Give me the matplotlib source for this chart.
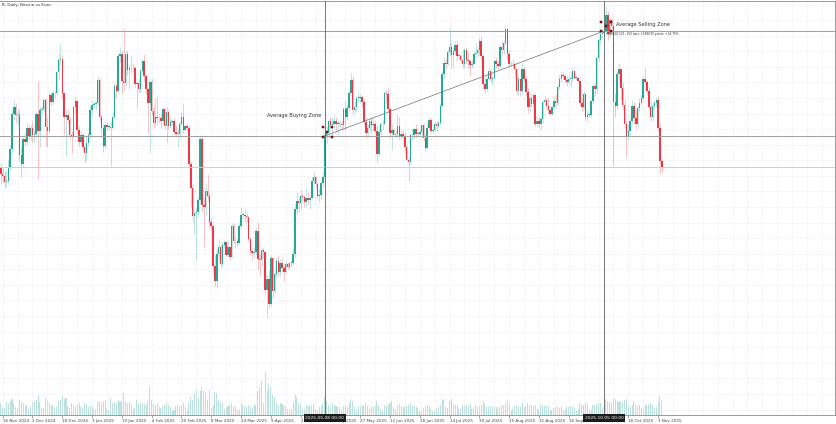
import datetime as dt

import matplotlib.pyplot as plt
from matplotlib.patches import Rectangle
from matplotlib.ticker import MultipleLocator
import matplotlib.transforms as mtransforms

# daily BTC/EUR candles (thousand EUR), 15 Nov 2024 .. 5 Nov 2025
start_date = dt.date(2024, 11, 15)
first_open = 87.2

close = [
    86.3, 86.0, 85.2, 85.4, 87.1, 89.4, 93.9, 94.9, 93.8, 93.8, 88.7, 87.5, 90.7, 90.4, 92.2, 91.1,
    92.1, 91.2, 91.4, 93.9, 91.7, 94.5, 94.6, 95.8, 92.3, 91.8, 96.4, 95.5, 96.6, 96.6, 99.3, 100.9,
    101.0, 96.7, 93.6, 93.8, 93.2, 91.2, 91.0, 94.9, 95.6, 91.9, 90.3, 91.3, 89.7, 89.0, 90.2,
    91.2, 94.4, 95.1, 95.2, 95.3, 98.3, 93.6, 92.1, 89.8, 92.5, 92.3, 92.3, 92.2, 93.6, 97.6, 96.9,
    101.4, 101.7, 98.2, 97.9, 101.7, 99.6, 99.8, 99.9, 99.8, 97.8, 97.9, 97.1, 99.5, 100.8, 98.8,
    97.1, 95.3, 98.0, 94.3, 92.8, 93.5, 93.4, 93.4, 93.0, 94.6, 92.4, 94.2, 92.4, 92.9, 93.0, 91.6,
    91.4, 91.4, 92.7, 93.6, 91.9, 92.4, 92.1, 87.5, 84.4, 80.8, 81.2, 81.4,
    82.9, 90.7, 82.2, 82.0, 84.0, 83.4, 80.1, 79.6, 74.4, 72.5, 76.0, 76.9, 74.7, 77.1, 77.5, 75.9,
    76.9, 75.6, 79.6, 77.6, 77.6, 77.4, 79.5, 81.0, 81.0, 80.8, 80.7, 77.9, 76.3, 76.1, 76.2,
    78.9, 75.3, 75.2, 76.5, 76.2, 71.4, 72.7, 69.6, 75.4, 71.2, 73.4, 75.1, 73.7, 74.8, 74.2, 73.7,
    74.7, 74.3, 74.8, 74.8, 76.0, 81.8, 82.8, 82.5, 83.4, 83.3, 82.6, 83.2, 82.9, 83.1,
    85.4, 85.8, 84.9, 83.4, 83.6, 85.1, 85.8, 91.2, 91.5, 93.0, 92.5, 92.7, 93.1, 92.7, 92.7, 92.7,
    92.5, 94.6, 93.6, 94.7, 96.7, 98.3, 94.5, 94.9, 96.0, 96.0, 96.1, 95.5, 92.9, 91.5, 92.2,
    93.1, 92.5, 92.7, 91.8, 88.8, 91.6, 92.6, 92.7, 96.6, 96.5, 94.6, 91.5, 91.9, 91.3, 91.4, 92.4,
    91.1, 91.4, 91.0, 89.7, 88.1, 87.8, 91.2, 91.3, 92.0, 91.4, 91.4, 91.6, 92.5, 90.8,
    89.6, 92.2, 93.2, 91.7, 91.9, 92.7, 92.4, 92.8, 95.0, 99.1, 100.5, 100.4, 101.9, 102.6, 101.5,
    102.0, 102.8, 101.4, 101.4, 100.9, 100.4, 102.2, 100.9, 100.8, 100.2, 100.4, 101.7, 101.8, 102.1,
    103.3, 101.4,
    97.8, 97.1, 98.5, 99.4, 98.5, 98.6, 100.7, 100.3, 100.1, 102.5, 102.2, 103.0, 104.9, 101.6, 100.3,
    100.4, 100.3, 99.7, 96.9, 98.4, 96.9, 99.7, 98.5, 96.8, 94.8, 96.0, 95.2, 96.4, 92.7, 93.1, 92.6,
    93.3, 95.5, 95.8, 95.0, 94.5, 94.0, 94.8, 95.6, 95.3, 97.4, 98.4, 99.0, 98.8, 98.3, 98.0, 98.5,
    98.5, 99.4, 98.6, 98.6, 98.2, 95.4, 94.8, 96.5, 93.5, 93.8, 93.8, 95.6, 97.5, 97.2,
    101.1, 103.5, 104.2, 104.3, 104.6, 106.6, 104.2, 106.0, 105.2, 95.5, 95.0, 99.1, 99.7, 97.3, 95.1,
    92.6, 91.1, 91.8, 93.0, 95.0, 93.4, 92.6, 94.7, 95.4, 96.0, 98.5, 98.0, 96.9, 94.8, 93.6, 95.0,
    95.4, 95.8, 92.1, 87.9, 87.1,
]
high = [
    87.6, 87.0, 86.6, 86.8, 88.0, 89.9, 94.4, 95.8, 95.3, 94.6, 94.5, 89.8, 91.0, 91.5, 92.8, 92.5,
    92.5, 93.0, 91.9, 94.3, 98.2, 95.0, 95.0, 96.0, 96.0, 93.5, 96.8, 96.8, 96.9, 97.0, 99.5, 101.8,
    103.1, 101.5, 96.6, 94.5, 94.6, 93.5, 91.8, 95.1, 96.2, 95.7, 92.4, 91.7, 91.5, 90.0, 91.2,
    91.6, 95.0, 95.6, 95.6, 95.6, 98.8, 98.6, 93.9, 92.6, 92.9, 92.9, 92.8, 92.9, 94.2, 97.8, 97.9,
    101.8, 102.5, 102.0, 105.0, 102.0, 102.0, 100.2, 101.4, 100.5, 100.1, 98.2, 98.4, 99.8, 101.0, 101.7,
    99.0, 97.3, 98.6, 98.5, 95.0, 96.0, 96.3, 93.9, 93.9, 94.9, 94.8, 94.8, 94.5, 93.5, 93.3, 93.4,
    92.5, 92.0, 93.0, 94.2, 95.3, 92.6, 92.8, 92.5, 87.9, 85.0, 81.6, 81.9,
    83.3, 91.2, 91.1, 83.2, 85.1, 86.2, 83.9, 80.6, 79.8, 75.9, 76.6, 77.8, 77.2, 77.5, 77.8, 77.7,
    77.7, 77.0, 80.0, 80.0, 78.3, 78.0, 79.9, 82.0, 81.4, 81.8, 81.3, 80.8, 78.1, 76.8, 76.9,
    79.3, 80.1, 76.0, 76.7, 76.8, 76.3, 73.3, 73.9, 75.9, 75.6, 73.9, 75.4, 75.7, 75.3, 75.4, 74.6,
    75.1, 74.9, 75.0, 75.1, 76.8, 82.4, 83.9, 83.4, 84.2, 83.8, 83.5, 84.4, 83.9, 83.4,
    85.9, 86.5, 86.0, 85.1, 84.4, 85.5, 86.5, 91.5, 92.3, 93.3, 93.6, 93.5, 93.8, 93.5, 93.0, 93.0,
    93.1, 94.9, 95.6, 95.2, 97.0, 99.2, 98.8, 95.6, 96.2, 96.7, 96.5, 96.4, 95.8, 93.4, 92.7,
    93.4, 93.6, 93.4, 93.1, 92.4, 92.0, 92.9, 93.3, 96.9, 97.0, 97.4, 94.8, 92.6, 92.1, 91.9, 94.0,
    93.5, 91.9, 91.9, 91.6, 89.9, 88.4, 91.5, 92.0, 92.3, 92.7, 91.8, 91.9, 92.7, 92.7,
    91.4, 92.6, 93.6, 93.4, 92.2, 93.0, 93.0, 93.1, 95.4, 99.4, 101.3, 101.0, 102.2, 105.0, 103.1,
    102.4, 103.3, 103.5, 101.8, 101.7, 102.3, 102.4, 102.5, 101.9, 101.0, 100.9, 102.0, 103.0, 102.5,
    103.7, 104.0,
    101.6, 98.8, 98.9, 99.9, 99.6, 98.9, 100.9, 101.2, 100.7, 102.8, 103.3, 103.3, 105.3, 105.1, 102.1,
    100.8, 101.0, 100.5, 99.8, 98.8, 98.5, 100.5, 100.0, 98.8, 97.3, 96.3, 96.5, 96.8, 96.6, 93.5, 93.5,
    93.6, 95.8, 96.3, 96.0, 96.0, 94.6, 95.0, 96.1, 96.5, 97.8, 98.9, 99.4, 99.3, 99.0, 98.8, 99.0,
    99.5, 99.9, 99.6, 98.9, 98.8, 98.3, 96.0, 96.9, 96.7, 94.5, 94.2, 95.8, 97.9, 97.9,
    101.4, 103.8, 104.7, 104.9, 105.6, 107.8, 107.2, 106.3, 106.3, 105.8, 96.6, 99.5, 100.5, 99.9, 97.9,
    95.9, 93.0, 92.5, 93.4, 95.7, 95.5, 94.4, 95.0, 96.0, 96.4, 98.8, 99.8, 98.3, 97.4, 95.6, 95.5,
    95.8, 96.1, 96.2, 92.6, 88.3,
]
low = [
    85.0, 85.2, 84.4, 84.6, 85.0, 86.8, 89.0, 93.2, 92.8, 92.5, 87.9, 85.8, 87.0, 89.8, 90.0, 90.7,
    90.6, 90.3, 90.4, 90.8, 85.5, 89.7, 94.0, 94.3, 89.8, 89.7, 91.5, 95.0, 95.2, 96.0, 96.2, 98.4,
    100.2, 96.0, 91.2, 88.6, 92.7, 90.7, 88.9, 90.8, 94.0, 91.4, 89.8, 90.1, 89.2, 87.7, 87.9,
    89.8, 90.8, 94.0, 94.7, 94.4, 95.1, 93.2, 91.4, 89.1, 89.5, 91.9, 91.9, 87.3, 92.0, 93.4, 96.0,
    96.6, 100.6, 96.7, 97.0, 97.6, 99.0, 97.1, 99.2, 99.3, 97.4, 94.9, 96.8, 96.6, 99.2, 98.2,
    96.5, 91.5, 89.0, 93.8, 92.1, 92.4, 92.5, 92.8, 92.2, 92.7, 92.0, 90.4, 92.0, 92.2, 92.7, 91.3,
    91.0, 89.7, 90.8, 92.5, 91.5, 91.8, 91.7, 87.2, 82.0, 80.1, 78.6, 75.2,
    80.9, 82.5, 81.4, 76.9, 81.0, 82.8, 79.3, 79.1, 73.6, 71.8, 71.6, 75.2, 74.2, 74.4, 76.9, 75.7,
    75.6, 75.3, 75.4, 77.2, 76.7, 77.0, 77.2, 79.3, 80.4, 80.1, 80.1, 77.6, 75.8, 75.2, 75.5,
    75.8, 74.1, 73.2, 74.4, 75.5, 70.8, 67.7, 69.1, 69.3, 70.3, 70.8, 72.9, 73.1, 73.1, 73.6, 72.5,
    73.5, 74.0, 74.0, 74.3, 74.5, 75.6, 81.0, 81.3, 81.8, 82.8, 82.0, 82.0, 82.4, 81.8,
    83.0, 84.9, 84.5, 83.1, 82.7, 82.9, 84.4, 85.5, 90.2, 91.1, 92.0, 90.9, 92.1, 91.6, 91.4, 92.0,
    91.9, 92.2, 91.9, 93.2, 94.3, 96.4, 94.0, 94.1, 94.3, 95.5, 95.3, 94.9, 92.5, 90.9, 91.0,
    91.7, 91.5, 91.8, 91.5, 87.6, 88.6, 91.2, 91.9, 92.5, 95.5, 94.2, 90.9, 89.3, 91.0, 90.8, 91.0,
    90.6, 90.7, 90.7, 89.0, 87.9, 85.4, 87.4, 90.6, 90.9, 91.0, 91.1, 91.2, 91.4, 90.5,
    89.2, 89.4, 92.0, 91.5, 91.5, 91.8, 91.8, 92.1, 92.5, 94.8, 98.5, 99.7, 100.2, 101.5, 99.8,
    99.8, 101.6, 100.9, 100.9, 100.6, 99.9, 99.9, 100.3, 99.8, 98.8, 99.9, 100.3, 101.2, 101.2,
    101.5, 100.8,
    97.2, 96.6, 96.9, 98.2, 98.0, 97.7, 98.4, 99.8, 99.8, 99.8, 101.5, 101.6, 102.8, 101.0, 99.9,
    100.1, 99.8, 98.6, 96.5, 96.4, 96.2, 96.5, 98.1, 96.3, 94.1, 94.2, 94.8, 94.9, 92.4, 92.3, 92.2,
    91.9, 92.8, 95.1, 94.6, 94.0, 93.8, 93.8, 94.6, 94.9, 95.1, 97.1, 98.0, 98.4, 97.9, 97.6, 97.8,
    97.4, 98.2, 98.4, 98.3, 98.0, 95.0, 94.3, 94.6, 93.2, 92.9, 93.6, 93.6, 95.3, 96.3,
    96.6, 100.8, 102.9, 103.7, 103.8, 104.1, 103.5, 103.8, 104.3, 87.3, 93.6, 94.6, 98.2, 95.7, 94.5,
    92.2, 88.4, 90.6, 91.3, 92.7, 92.7, 92.0, 92.2, 94.3, 95.1, 95.8, 97.7, 96.5, 94.4, 93.0, 93.2,
    94.6, 94.8, 91.7, 86.3, 86.5,
]
volume = [
    12, 8, 7, 13, 12, 14, 16, 12, 8, 7, 15, 13, 12, 9, 10, 6,
    8, 13, 14, 15, 20, 13, 7, 7, 17, 14, 12, 10, 10, 7, 8, 14, 15, 19, 16, 17, 9, 7, 12, 10, 8, 11,
    12, 8, 7, 12, 11,
    8, 9, 9, 6, 6, 13, 14, 12, 14, 15, 6, 5, 17, 12, 13, 12, 15, 13, 14, 22, 14, 12, 13, 11, 6, 7,
    15, 11, 12, 12, 11,
    10, 14, 29, 15, 11, 10, 12, 8, 7, 9, 10, 12, 10, 8, 5, 5, 9, 10, 9, 10, 12, 8, 5, 12, 18, 15,
    22, 25,
    17, 24, 28, 24, 23, 15, 25, 7, 10, 23, 22, 15, 12, 12, 6, 7, 9, 10, 12, 9, 8, 5, 6, 12, 10, 9,
    8, 10, 8, 7, 10,
    10, 24, 28, 34, 12, 42, 24, 32, 28, 20, 18, 12, 9, 12, 11, 10, 9, 6, 5, 6, 13, 20, 18, 12, 11,
    6, 6, 10, 9, 9,
    10, 11, 6, 5, 8, 9, 11, 18, 14, 10, 8, 12, 10, 9, 8, 8, 6, 9, 10, 8, 12, 16, 14, 8, 6, 9, 9, 9,
    10, 12, 9,
    6, 8, 8, 9, 14, 10, 6, 5, 10, 10, 10, 12, 14, 8, 6, 10, 11, 9, 8, 8, 9, 10, 12, 9, 9, 8, 7, 4,
    4, 7,
    9, 10, 9, 6, 4, 4, 7, 8, 10, 16, 15, 8, 7, 14, 16, 11, 10, 10, 6, 6, 10, 10, 10, 9, 11, 6, 6,
    10, 8, 9, 10,
    14, 11, 8, 8, 9, 8, 9, 8, 6, 8, 10, 10, 12, 15, 11, 5, 6, 10, 9, 9, 8, 13, 8, 9, 12, 10, 10, 9,
    10, 6, 6,
    10, 10, 9, 9, 9, 5, 5, 7, 8, 8, 7, 8, 5, 5, 8, 8, 9, 8, 7, 4, 5, 12, 10, 10, 12, 11, 5, 6, 10, 10,
    11, 12, 12, 8, 12, 16, 14, 13, 12, 17, 16, 14, 13, 14, 13, 15, 16, 10, 8, 10, 14, 11, 9, 10, 7,
    8, 10, 10, 11, 12, 10,
    7, 8, 13, 18, 15,
]

buy_level = 91.12
sell_level = 104.6
last_price = 87.1
buy_date = dt.date(2025, 5, 8)
sell_date = dt.date(2025, 10, 5)
tick_dates = [dt.date(2024, 11, 16) + dt.timedelta(days=16 * i) for i in range(23)]
title = "R, Daily: Bitcoin vs Euro"
measure_text = "104600.521: 150 bars, 1348030 points, +14.75%"

BULL = "#22ab94"
BEAR = "#f23645"
ORIGIN = dt.date(2024, 11, 16)


def day(d):
    return (d - ORIGIN).days


def main():
    n = len(close)
    assert len(high) == n and len(low) == n and len(volume) == n, (n, len(high), len(low), len(volume))
    days = [day(start_date) + i for i in range(n)]
    opens = [first_open] + close[:-1]

    fig = plt.figure(figsize=(8.36, 4.24), dpi=100)
    ax = fig.add_axes([0, 9 / 424, 835 / 836, 414 / 424])
    axv = ax.twinx()
    ax.set_zorder(axv.get_zorder() + 1)
    ax.patch.set_visible(False)

    # volume bars at the bottom
    axv.bar(days, volume, width=0.55, color="#26a69a", alpha=0.32, linewidth=0)
    axv.set_ylim(0, 414)
    axv.set_yticks([])
    for s in axv.spines.values():
        s.set_visible(False)

    # candles
    for d, o, h, l, c in zip(days, opens, high, low, close):
        col = BULL if c >= o else BEAR
        ax.vlines(d, l, h, color=col, lw=0.6, alpha=0.35, zorder=2)
        ax.bar(d, max(abs(c - o), 0.08), bottom=min(o, c), width=0.8, color=col,
               linewidth=0, zorder=3)

    ax.set_xlim(-1.45, 447.0)
    ax.set_ylim(55.30, 108.45)

    # levels, crosshairs and trend line
    ax.axhline(sell_level, color="#a0a0a0", lw=0.7, zorder=4)
    ax.axhline(buy_level, color="#a0a0a0", lw=0.7, zorder=4)
    ax.axhline(last_price, color="#bcd6d1", lw=0.7, zorder=4)
    bx, sx = day(buy_date), day(sell_date)
    ax.axvline(bx, color="#606060", lw=0.6, zorder=4)
    ax.axvline(sx, color="#606060", lw=0.6, zorder=4)
    ax.plot([bx, sx], [buy_level, sell_level], color="#707070", lw=0.5, zorder=4)

    # zone boxes with selection handles
    for x0, x1, y0, y1 in [(bx - 1.1, bx + 3.7, 90.95, 92.3), (sx - 1.7, sx + 3.7, sell_level, 105.8)]:
        ax.add_patch(Rectangle((x0, y0), x1 - x0, y1 - y0, fill=False, ec="#b0b0b0",
                               lw=0.4, ls=":", zorder=5))
        hx = [x0, x1, x0, x1, (x0 + x1) / 2]
        hy = [y0, y0, y1, y1, (y0 + y1) / 2]
        ax.scatter(hx, hy, marker="s", s=3, color="#b01010", edgecolors="#300000",
                   linewidths=0.3, zorder=6)

    ax.text(bx - 1.8, 93.7, "Average Buying Zone", fontsize=3.6, color="#333333",
            ha="right", va="center", zorder=6)
    ax.text(sx + 6.5, 105.4, "Average Selling Zone", fontsize=3.6, color="#333333",
            ha="left", va="center", zorder=6)
    ax.text(sx + 1.5, 104.2, measure_text, fontsize=2.1, color="#333333",
            ha="left", va="center", zorder=6)

    # grid and axes
    ax.set_xticks([day(t) for t in tick_dates])
    ax.set_xticklabels([f"{t.day} {t:%b %Y}" for t in tick_dates], fontsize=3.0,
                       color="#444444", ha="left")
    offset = mtransforms.ScaledTranslation(0.6 / 72, 0, fig.dpi_scale_trans)
    for lab in ax.get_xticklabels():
        lab.set_transform(lab.get_transform() + offset)
    ax.xaxis.set_minor_locator(MultipleLocator(8))
    ax.yaxis.set_major_locator(MultipleLocator(2))
    ax.tick_params(axis="x", length=2, width=0.5, color="#888888", pad=1)
    ax.tick_params(axis="x", which="minor", length=0)
    ax.tick_params(axis="y", left=False, labelleft=False)
    ax.grid(True, which="both", ls=(0, (1.5, 2)), color="#e4e4e4", lw=0.5)
    ax.set_axisbelow(True)
    for s in ax.spines.values():
        s.set_color("#9a9a9a")
        s.set_linewidth(0.7)
    ax.spines["left"].set_visible(False)

    # crosshair date labels on the time axis
    trans = mtransforms.blended_transform_factory(ax.transData, ax.transAxes)
    for d, txt in [(bx, f"{buy_date:%Y.%m.%d} 00:00"), (sx, f"{sell_date:%Y.%m.%d} 00:00")]:
        ax.text(d, -0.002, txt, transform=trans, fontsize=3.2, color="white", ha="center",
                va="top", zorder=10, clip_on=False,
                bbox=dict(boxstyle="square,pad=0.4", fc="#1c1c1c", ec="none"))

    fig.text(0.002, 1 - 5 / 424, title, fontsize=3.0, color="#333333", ha="left", va="center")

    fig.savefig("out.png", dpi=100)


if __name__ == "__main__":
    main()
